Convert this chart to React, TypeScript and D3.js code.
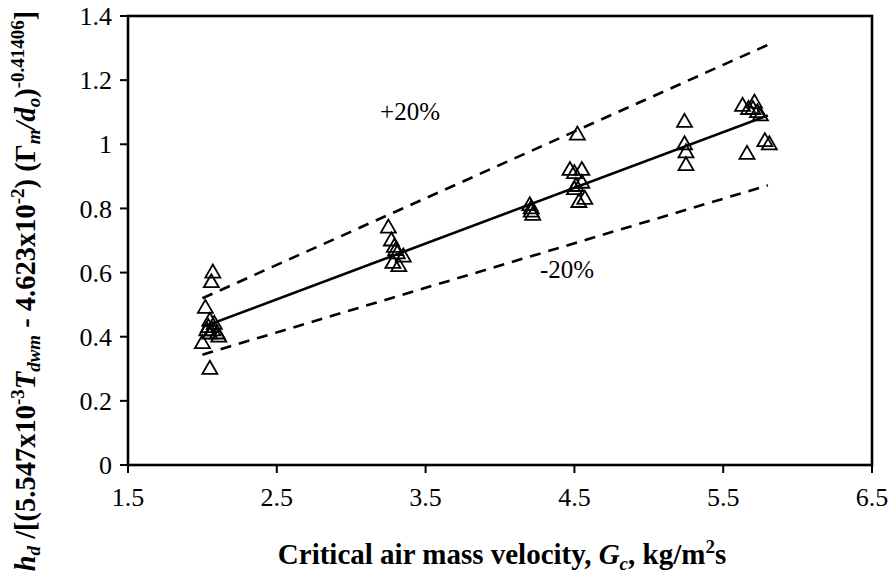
import React from "react";
import * as d3 from "d3";

const gcValues = [
  2.07, 2.06, 2.02, 2.05, 2.08, 2.04, 2.07, 2.1, 2.05, 2.11, 2.03, 2.0, 2.05,
  3.25, 3.27, 3.29, 3.31, 3.35, 3.28, 3.32, 3.3,
  4.2, 4.21, 4.21, 4.22,
  4.52, 4.47, 4.5, 4.55, 4.55, 4.51, 4.5, 4.57, 4.53,
  5.24, 5.24, 5.25, 5.25,
  5.63, 5.67, 5.71, 5.7, 5.73, 5.75, 5.78, 5.81, 5.66,
];
const hdValues = [
  0.6, 0.57, 0.49, 0.45, 0.44, 0.43, 0.42, 0.41, 0.41, 0.4, 0.42, 0.38, 0.3,
  0.74, 0.7, 0.68, 0.66, 0.65, 0.63, 0.62, 0.67,
  0.81, 0.8, 0.79, 0.78,
  1.03, 0.92, 0.91, 0.92, 0.88, 0.87, 0.86, 0.83, 0.82,
  1.07, 1.0, 0.975, 0.935,
  1.12, 1.11, 1.13, 1.11, 1.1, 1.09, 1.01, 1.0, 0.97,
];

const fitX = [2.0, 5.8];
const fitY = [0.43, 1.09];
const upperY = [0.52, 1.31];
const lowerY = [0.344, 0.872];

const xTicks = [1.5, 2.5, 3.5, 4.5, 5.5, 6.5];
const yTicks = [0, 0.2, 0.4, 0.6, 0.8, 1.0, 1.2, 1.4];

const W = 892;
const H = 584;
const left = 128;
const right = 872;
const top = 16;
const bottom = 465;
const FONT = "Liberation Serif, Tinos, Times New Roman, Times, serif";

export default function App() {
  const x = d3.scaleLinear().domain([1.5, 6.5]).range([left, right]);
  const y = d3.scaleLinear().domain([0, 1.4]).range([bottom, top]);
  const line = d3
    .line<[number, number]>()
    .x((d) => x(d[0]))
    .y((d) => y(d[1]));
  const mk = (ys: number[]) => fitX.map((v, i) => [v, ys[i]] as [number, number]);
  const tri = (cx: number, cy: number) =>
    `M${cx},${cy - 8}L${cx + 7.5},${cy + 5}L${cx - 7.5},${cy + 5}Z`;

  return (
    <svg
      width={W}
      height={H}
      style={{ position: "absolute", left: 0, top: 0, background: "#fff" }}
    >
      <rect x={0} y={0} width={W} height={H} fill="#fff" />
      <path d={line(mk(fitY)) || ""} fill="none" stroke="#000" strokeWidth={2.6} />
      <path
        d={line(mk(upperY)) || ""}
        fill="none"
        stroke="#000"
        strokeWidth={2.6}
        strokeDasharray="11,8"
      />
      <path
        d={line(mk(lowerY)) || ""}
        fill="none"
        stroke="#000"
        strokeWidth={2.6}
        strokeDasharray="11,8"
      />
      {gcValues.map((g, i) => (
        <path
          key={i}
          d={tri(x(g), y(hdValues[i]))}
          fill="none"
          stroke="#000"
          strokeWidth={1.8}
        />
      ))}
      <rect
        x={left}
        y={top}
        width={right - left}
        height={bottom - top}
        fill="none"
        stroke="#000"
        strokeWidth={2.6}
      />
      <g style={{ fontFamily: FONT }}>
        {yTicks.map((t) => (
          <g key={"y" + t}>
            <line x1={left - 8} x2={left} y1={y(t)} y2={y(t)} stroke="#000" strokeWidth={2} />
            <text x={left - 16} y={y(t)} dy="0.35em" textAnchor="end" fontSize={26}>
              {d3.format("~g")(t)}
            </text>
          </g>
        ))}
        {xTicks.map((t) => (
          <g key={"x" + t}>
            <line x1={x(t)} x2={x(t)} y1={bottom} y2={bottom + 8} stroke="#000" strokeWidth={2} />
            <text x={x(t)} y={bottom + 41} textAnchor="middle" fontSize={26}>
              {d3.format(".1f")(t)}
            </text>
          </g>
        ))}
        <text x={410} y={120} textAnchor="middle" fontSize={25}>
          +20%
        </text>
        <text x={567} y={278} textAnchor="middle" fontSize={25}>
          -20%
        </text>
        <text x={502} y={564} textAnchor="middle" fontSize={29} fontWeight="bold">
          <tspan>Critical air mass velocity, </tspan>
          <tspan fontStyle="italic">G</tspan>
          <tspan fontStyle="italic" fontSize={19} dy={6}>c</tspan>
          <tspan dy={-6}>, kg/m</tspan>
          <tspan fontSize={19} dy={-11}>2</tspan>
          <tspan dy={11}>s</tspan>
        </text>
        <text
          transform="translate(35,291) rotate(-90)"
          textAnchor="middle"
          fontSize={28.5}
          fontWeight="bold"
        >
          <tspan fontStyle="italic">h</tspan>
          <tspan fontStyle="italic" fontSize={19} dy={5}>d</tspan>
          <tspan dy={-5}> /[(5.547x10</tspan>
          <tspan fontSize={19} dy={-11}>-3</tspan>
          <tspan fontStyle="italic" dy={11}>T</tspan>
          <tspan fontStyle="italic" fontSize={19} dy={5}>dwm</tspan>
          <tspan dy={-5}> - 4.623x10</tspan>
          <tspan fontSize={19} dy={-11}>-2</tspan>
          <tspan dy={11}>) (Γ</tspan>
          <tspan fontStyle="italic" fontSize={19} dy={5}>m</tspan>
          <tspan fontStyle="italic" dy={-5}>/d</tspan>
          <tspan fontStyle="italic" fontSize={19} dy={5}>o</tspan>
          <tspan dy={-5}>)</tspan>
          <tspan fontSize={19} dy={-11}>-0.41406</tspan>
          <tspan dy={11}>]</tspan>
        </text>
      </g>
    </svg>
  );
}
